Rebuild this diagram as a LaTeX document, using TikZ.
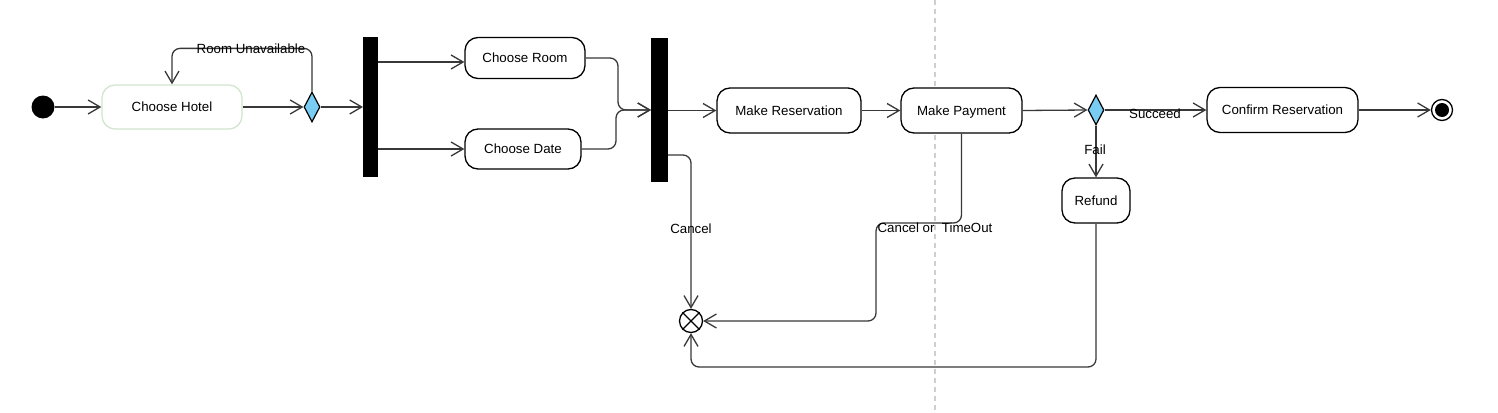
\documentclass[tikz,border=0pt]{standalone}
\usepackage{fontspec}
\setmainfont{Liberation Sans}
\usetikzlibrary{arrows.meta,shapes.geometric}
\definecolor{conn}{HTML}{383838}
\definecolor{decblue}{HTML}{79CDF3}
\definecolor{hotelgreen}{HTML}{D2E6CF}
\definecolor{dashgray}{HTML}{CFCFCF}
\begin{document}
\begin{tikzpicture}[x=1pt,y=-1pt,
  every node/.style={font=\fontsize{13.3}{16}\selectfont},
  act/.style={draw=black,line width=1.3pt,fill=white,rounded corners=13pt,inner sep=0pt,minimum height=44pt,text height=9.6pt,text depth=0pt},
  flow/.style={draw=conn,line width=1.3pt,-{Straight Barb[length=12pt,width=14pt,line width=1.3pt]},rounded corners=8pt},
  bar/.style={fill=black,draw=none,inner sep=0pt,outer sep=0pt},
  dec/.style={diamond,draw=black,fill=decblue,line width=1.2pt,inner sep=0pt,minimum width=16pt,minimum height=30pt,aspect=0.53},
  lbl/.style={inner sep=0pt,text=black,text height=9.6pt,text depth=0pt}]
\useasboundingbox (0,0) rectangle (1498,412);
% swimlane divider
\draw[dashgray,line width=1.3pt,dash pattern=on 5pt off 4pt] (935,0) -- (935,412);

% nodes
\node[circle,fill=black,inner sep=0pt,minimum size=23pt] (start) at (43,107) {};
\node[act,draw=hotelgreen,minimum width=140pt] (hotel) at (172,107) {Choose Hotel};
\node[dec] (d1) at (312,107) {};
\node[bar,minimum width=15pt,minimum height=140pt] (bar1) at (370.5,107) {};
\node[act,minimum width=120pt,minimum height=41pt] (room) at (525,58) {Choose Room};
\node[act,minimum width=116pt,minimum height=40pt] (date) at (523,149) {Choose Date};
\node[bar,minimum width=17pt,minimum height=144pt] (bar2) at (659.5,110) {};
\node[act,minimum width=144pt,minimum height=45pt] (mres) at (789,110.5) {Make Reservation};
\node[act,minimum width=121pt,minimum height=45pt] (mpay) at (961.5,110.5) {Make Payment};
\node[dec] (d2) at (1096,110) {};
\node[act,minimum width=151pt,minimum height=45pt] (conf) at (1282.5,110) {Confirm Reservation};
\node[act,minimum width=68pt,minimum height=45pt] (refund) at (1096,200.5) {Refund};
\node[circle,draw=black,line width=1.3pt,fill=white,inner sep=0pt,minimum size=21pt] (final) at (1442,110) {};
\fill[black] (final.center) circle (7);
\node[circle,draw=black,line width=1.3pt,fill=white,inner sep=0pt,minimum size=23pt] (ff) at (691,321) {};
\draw[black,line width=1.3pt] (ff.45) -- (ff.225) (ff.135) -- (ff.315);

% connectors
\draw[flow] (start) -- (hotel);
\draw[flow] (hotel) -- (d1);
\draw[flow] (d1.north) -- ++(0,-43) -| (hotel.north);
\draw[flow] (d1) -- (bar1.west |- d1);
\draw[flow] (bar1.east |- 0,62) -- (room.west |- 0,62);
\draw[flow] (bar1.east |- date.west) -- (date.west);
\draw[flow] (room.east) -| (618,110) -- (bar2.west |- 0,110);
\draw[flow] (date.east) -| (616,110) -- (bar2.west |- 0,110);
\draw[flow] (bar2.east |- mres.west) -- (mres.west);
\draw[flow] (mres) -- (mpay);
\draw[flow] (mpay.east) -- (d2.west);
\draw[flow] (d2.east) -- (conf.west);
\draw[flow] (conf) -- (final);
\draw[flow] (d2.south) -- (refund.north);
\draw[flow] (bar2.east |- 0,155) -| (ff.north);
\draw[flow] (mpay.south) |- (876,223) |- (ff.east);
\draw[flow] (refund.south) |- (691,367) -- (ff.south);

% labels
\node[lbl] (lroom) at (251,49) {Room Unavailable};
\node[lbl] (lsucc) at (1155,114) {Succeed};
\node[lbl] (lfail) at (1095,150) {Fail};
\node[lbl] (lcancel) at (691,229) {Cancel};
\node[lbl] (lcto) at (935,228) {Cancel or\ \ TimeOut};
\end{tikzpicture}
\end{document}
